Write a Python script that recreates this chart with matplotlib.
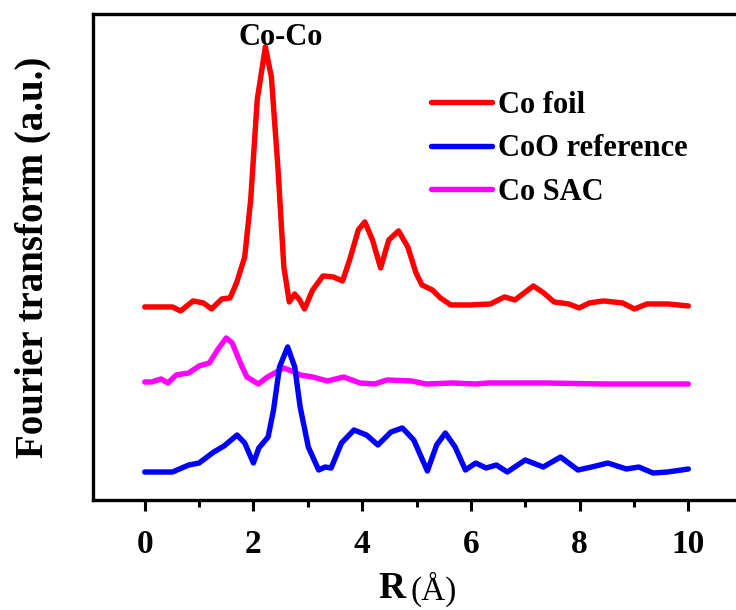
import matplotlib.pyplot as plt

plt.rcParams["font.family"] = ["Liberation Serif", "DejaVu Serif"]
plt.rcParams["font.weight"] = "bold"

# FT-EXAFS magnitudes, stacked with offsets (arbitrary units)
r_foil = [0.0, 0.51, 0.66, 0.89, 1.08, 1.23, 1.42, 1.57, 1.69, 1.84, 1.95, 2.07,
          2.22, 2.33, 2.45, 2.56, 2.66, 2.76, 2.85, 2.94, 3.09, 3.28, 3.47, 3.64,
          3.77, 3.93, 4.05, 4.19, 4.34, 4.49, 4.67, 4.84, 4.99, 5.10, 5.29, 5.44,
          5.63, 5.98, 6.36, 6.62, 6.81, 7.15, 7.34, 7.53, 7.80, 7.99, 8.18, 8.44,
          8.79, 9.01, 9.24, 9.62, 10.0]
ft_foil = [193, 193, 189, 199, 197, 191, 201, 202, 217, 243, 300, 400,
           453, 423, 333, 233, 198, 206, 200, 191, 210, 224, 223, 219,
           240, 270, 278, 260, 232, 260, 269, 253, 227, 215, 210, 202,
           195, 195, 196, 203, 200, 214, 207, 198, 196, 192, 197, 199,
           197, 191, 196, 196, 194]

r_sac = [0.0, 0.13, 0.30, 0.43, 0.58, 0.81, 1.0, 1.19, 1.34, 1.50, 1.61, 1.76,
         1.88, 2.09, 2.26, 2.56, 2.75, 2.86, 3.09, 3.36, 3.66, 3.96, 4.23, 4.46,
         4.91, 5.18, 5.67, 6.09, 6.32, 7.34, 8.48, 10.0]
ft_sac = [118, 118, 121, 117, 125, 127, 134, 137, 150, 162, 157, 137,
          123, 116, 123, 132, 128, 125, 123, 119, 123, 117, 116, 120,
          119, 116, 117, 116, 117, 117, 116, 116]

r_coo = [0.0, 0.51, 0.81, 1.0, 1.27, 1.46, 1.70, 1.84, 2.0, 2.10, 2.27, 2.37,
         2.48, 2.63, 2.76, 2.86, 3.01, 3.20, 3.32, 3.43, 3.62, 3.85, 4.08, 4.29,
         4.53, 4.74, 4.95, 5.20, 5.37, 5.53, 5.71, 5.90, 6.09, 6.28, 6.47, 6.67,
         7.0, 7.33, 7.65, 7.97, 8.22, 8.52, 8.86, 9.09, 9.35, 9.62, 10.0]
ft_coo = [28, 28, 35, 37, 48, 54, 65, 57, 37, 52, 63, 90,
          133, 153, 133, 93, 53, 30, 33, 32, 57, 70, 65, 55,
          68, 72, 60, 29, 55, 67, 53, 30, 37, 32, 35, 28,
          40, 33, 43, 30, 33, 37, 31, 33, 27, 28, 31]

fig = plt.figure(figsize=(7.36, 6.10), dpi=100)
ax = fig.add_axes([0.1264, 0.1803, 0.879, 0.797])

lw = 3.9
style = dict(lw=lw, solid_joinstyle="round", solid_capstyle="round")
l_foil, = ax.plot(r_foil, ft_foil, color="#ff0000", label="Co foil", zorder=3, **style)
l_sac, = ax.plot(r_sac, ft_sac, color="#ff00ff", label="Co SAC", zorder=3, **style)
l_coo, = ax.plot(r_coo, ft_coo, color="#0000ff", label="CoO reference", zorder=4, **style)

ax.set_xlim(-0.95, 10.95)
ax.set_ylim(0, 486)
ax.set_xticks([0, 2, 4, 6, 8, 10])
ax.set_xticks([1, 3, 5, 7, 9], minor=True)
ax.set_yticks([])
ax.tick_params(axis="x", which="major", direction="out", length=8, width=2.2,
               labelsize=24, pad=13)
ax.tick_params(axis="x", which="minor", direction="out", length=5, width=2.2)
for lab in ax.get_xticklabels():
    lab.set_fontweight("bold")
for sp in ax.spines.values():
    sp.set_linewidth(2.4)

ax.text(2.51, 462, "Co-Co", ha="center", va="center", fontsize=22, fontweight="bold")

ax.legend(handles=[l_foil, l_coo, l_sac], loc="upper left", bbox_to_anchor=(0.522, 0.842),
          frameon=False, borderpad=0, borderaxespad=0, handlelength=2.0,
          handletextpad=0.2, labelspacing=0.48, prop={"size": 22, "weight": "bold"})

ax.set_ylabel("Fourier transform (a.u.)", fontsize=28, fontweight="bold", labelpad=30)
fig.text(406 / 736, 1 - 589 / 610, "R", ha="right", va="center", fontsize=27, fontweight="bold")
fig.text(410 / 736, 1 - 589 / 610, "(Å)", ha="left", va="center", fontsize=24, fontweight="normal")

fig.savefig("out.png", dpi=100)
